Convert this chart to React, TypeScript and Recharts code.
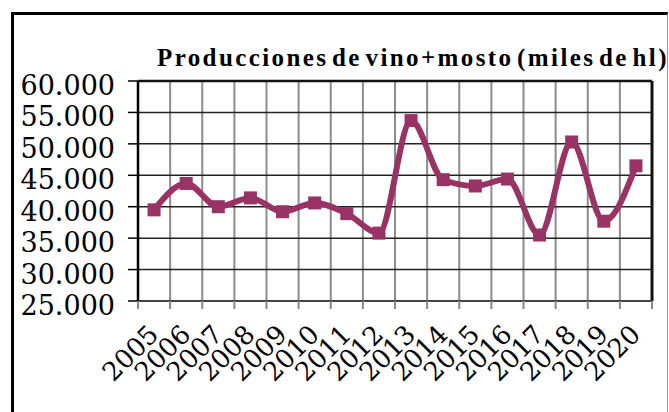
import React from "react";
import {
  LineChart, Line, XAxis, YAxis, CartesianGrid, ReferenceLine,
} from "recharts";

const years = [
  "2005", "2006", "2007", "2008", "2009", "2010", "2011", "2012",
  "2013", "2014", "2015", "2016", "2017", "2018", "2019", "2020",
];
const production = [
  39500, 43700, 40000, 41400, 39200, 40600, 38900, 35800,
  53700, 44300, 43300, 44400, 35500, 50300, 37700, 46500,
];
const yTicks = [25000, 30000, 35000, 40000, 45000, 50000, 55000, 60000];

const data = years.map((year, i) => ({ i, year, value: production[i] }));
// label ticks at each year, plus half steps for the tick marks between bands
const xTicks: number[] = [];
for (let k = 0; k <= years.length * 2; k++) xTicks.push(k / 2 - 0.5);

const PLUM = "#993366";
const fmt = (v: number) => v.toLocaleString("de-DE");

function XTick(props: any) {
  const { x, y, payload } = props;
  const v = payload.value as number;
  if (!Number.isInteger(v)) {
    return <line x1={x} x2={x} y1={y} y2={y + 8} stroke="#888" strokeWidth={2} />;
  }
  const ax = x + 6;
  const ay = y + 35;
  return (
    <text
      x={ax} y={ay} textAnchor="end" fill="#000"
      fontFamily="'DejaVu Serif', serif" fontSize={26}
      transform={`rotate(-45, ${ax}, ${ay})`}
    >
      {years[v]}
    </text>
  );
}

function YTick(props: any) {
  const { x, y, payload } = props;
  return (
    <text x={x - 13} y={y + 14} textAnchor="end" fill="#000"
      fontFamily="'DejaVu Serif', serif" fontSize={27}>
      {fmt(payload.value)}
    </text>
  );
}

function Dot(props: any) {
  const { cx, cy } = props;
  if (cx == null || cy == null) return null;
  return <rect x={cx - 6.5} y={cy - 6.5} width={13} height={13} fill={PLUM} />;
}

export default function App() {
  return (
    <div style={{ position: "absolute", left: 0, top: 0, width: 669, height: 412, overflow: "hidden", background: "#fff" }}>
      <div style={{
        position: "absolute", left: 11, top: 12, width: 657, height: 420, boxSizing: "border-box",
        borderLeft: "3px solid #000", borderTop: "3px solid #000", borderRight: "1px solid #999",
      }} />
      <div style={{
        position: "absolute", left: 157, top: 45, lineHeight: "25px", whiteSpace: "nowrap",
        fontFamily: "'Liberation Serif', serif", fontWeight: "bold", fontSize: 25, color: "#000",
        letterSpacing: 2.4, wordSpacing: -5,
      }}>
        Producciones de vino+mosto (miles de hl)
      </div>
      <div style={{ position: "absolute", left: 0, top: 0 }}>
        <LineChart width={669} height={412} data={data}
          margin={{ top: 81, right: 17, left: 0, bottom: 0 }}>
          <CartesianGrid horizontal={false} stroke="#8c8c8c" strokeWidth={2}
            verticalCoordinatesGenerator={({ offset }: any) =>
              Array.from({ length: years.length + 1 }, (_, k) => offset.left + (k * offset.width) / years.length)
            } />
          <CartesianGrid vertical={false} stroke="#222" strokeWidth={1.5} />
          <XAxis dataKey="i" type="number" domain={[-0.5, 15.5]} ticks={xTicks} interval={0}
            height={111} tickLine={false} tickSize={0} tickMargin={0}
            axisLine={{ stroke: "#444", strokeWidth: 2 }} tick={<XTick />} />
          <YAxis type="number" domain={[25000, 60000]} ticks={yTicks} interval={0} width={138}
            tickSize={10} tickMargin={0} tickLine={{ stroke: "#000", strokeWidth: 1.5 }}
            axisLine={{ stroke: "#000", strokeWidth: 2.5 }} tick={<YTick />} />
          <ReferenceLine x={15.5} stroke="#111" strokeWidth={3} />
          <ReferenceLine y={60000} stroke="#111" strokeWidth={2.5} />
          <Line type="monotone" dataKey="value" stroke={PLUM} strokeWidth={6}
            dot={<Dot />} activeDot={false} isAnimationActive={false} />
        </LineChart>
      </div>
    </div>
  );
}
